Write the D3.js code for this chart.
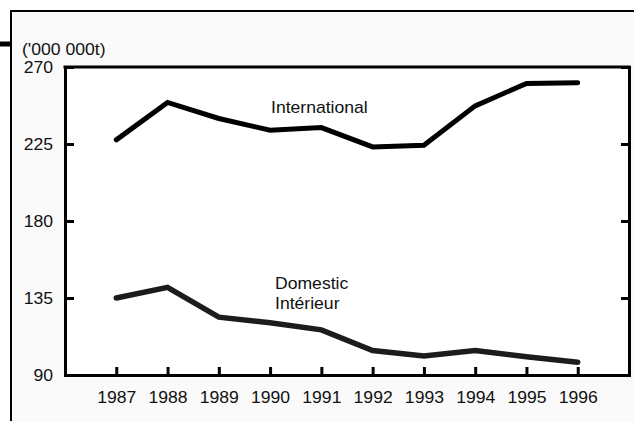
<!DOCTYPE html>
<html>
<head>
<meta charset="utf-8">
<script src="https://cdn.jsdelivr.net/npm/d3@7"></script>
<style>
  body { margin: 0; background: #ffffff; }
  text { font-family: "Liberation Sans", Arial, sans-serif; fill: #111; }
</style>
</head>
<body>
<div id="container"></div>
<script>
// data
let years = [1987, 1988, 1989, 1990, 1991, 1992, 1993, 1994, 1995, 1996];
let international = [227.4, 249.3, 239.9, 233.1, 234.6, 223.3, 224.3, 247.3, 260.4, 260.8];
let domestic = [135.0, 141.2, 123.8, 120.5, 116.4, 104.3, 101.1, 104.3, 100.7, 97.5];
let yTicks = [90, 135, 180, 225, 270];

let W = 634, H = 421;
let sx = 1.1; // text in the original is a bit stretched sideways
let fs = 16;

let viz = d3.select("#container")
  .append("svg")
    .attr("width", W)
    .attr("height", H)
;

// <---------frame---------->
viz.append("rect")
  .attr("x", 11).attr("y", 11)
  .attr("width", W - 11).attr("height", H - 11)
  .attr("fill", "#fafafa");

viz.append("path")
  .attr("d", "M11," + H + "V11H" + W)
  .attr("fill", "none")
  .attr("stroke", "#000")
  .attr("stroke-width", 2);

viz.append("line")
  .attr("x1", 0).attr("x2", 11)
  .attr("y1", 44).attr("y2", 44)
  .attr("stroke", "#000")
  .attr("stroke-width", 5);

// <---------scales---------->
let plotL = 65, plotR = 629, plotT = 67, plotB = 375;

let x = d3.scaleLinear().domain([1986, 1997]).range([plotL, plotR]);
let y = d3.scaleLinear().domain([90, 270]).range([plotB, plotT]);

viz.append("rect")
  .attr("x", plotL).attr("y", plotT)
  .attr("width", plotR - plotL).attr("height", plotB - plotT)
  .attr("fill", "#ffffff");

// <---------axes---------->
let leftAxis = viz.append("g")
  .attr("transform", "translate(" + plotL + ",0)")
  .call(d3.axisLeft(y).tickValues(yTicks).tickSize(-9).tickSizeOuter(0).tickPadding(0));

leftAxis.selectAll("text")
  .attr("x", 0)
  .attr("transform", "translate(-12,0) scale(" + sx + ",1)");

let rightAxis = viz.append("g")
  .attr("transform", "translate(" + plotR + ",0)")
  .call(d3.axisRight(y).tickValues(yTicks).tickSize(-8).tickSizeOuter(0).tickFormat(""));

let bottomAxis = viz.append("g")
  .attr("transform", "translate(0," + plotB + ")")
  .call(d3.axisBottom(x).tickValues(years).tickSize(-8).tickSizeOuter(0)
    .tickFormat(d3.format("d")).tickPadding(17));

bottomAxis.selectAll("text").attr("transform", "scale(" + sx + ",1)");

viz.append("line")
  .attr("x1", plotL).attr("x2", plotR)
  .attr("y1", plotT).attr("y2", plotT)
  .attr("stroke", "#000")
  .attr("stroke-width", 3)
  .attr("stroke-linecap", "square");

[leftAxis, rightAxis, bottomAxis].forEach(function(g){
  g.attr("font-size", fs).attr("font-family", "Liberation Sans, Arial, sans-serif");
  g.selectAll("path, line").attr("stroke", "#000").attr("stroke-width", 3);
  g.select(".domain").attr("stroke-linecap", "square");
  g.selectAll("text").style("font-size", fs + "px").attr("fill", "#111");
});

// <---------lines---------->
let line = d3.line()
  .x(function(d, i){ return x(years[i]); })
  .y(function(d){ return y(d); });

viz.append("path")
  .datum(international)
  .attr("d", line)
  .attr("fill", "none")
  .attr("stroke", "#000")
  .attr("stroke-width", 5)
  .attr("stroke-linecap", "round");

viz.append("path")
  .datum(domestic)
  .attr("d", line)
  .attr("fill", "none")
  .attr("stroke", "#1c1c1c")
  .attr("stroke-width", 5.5)
  .attr("stroke-linecap", "round");

// <---------labels---------->
function label(txt, px, py){
  viz.append("text")
    .attr("transform", "translate(" + px + "," + py + ") scale(" + sx + ",1)")
    .style("font-size", fs + "px")
    .text(txt);
}

label("('000 000t)", 22, 55);
label("International", 271, 113);
label("Domestic", 275, 289);
label("Intérieur", 275, 309);
</script>
</body>
</html>
